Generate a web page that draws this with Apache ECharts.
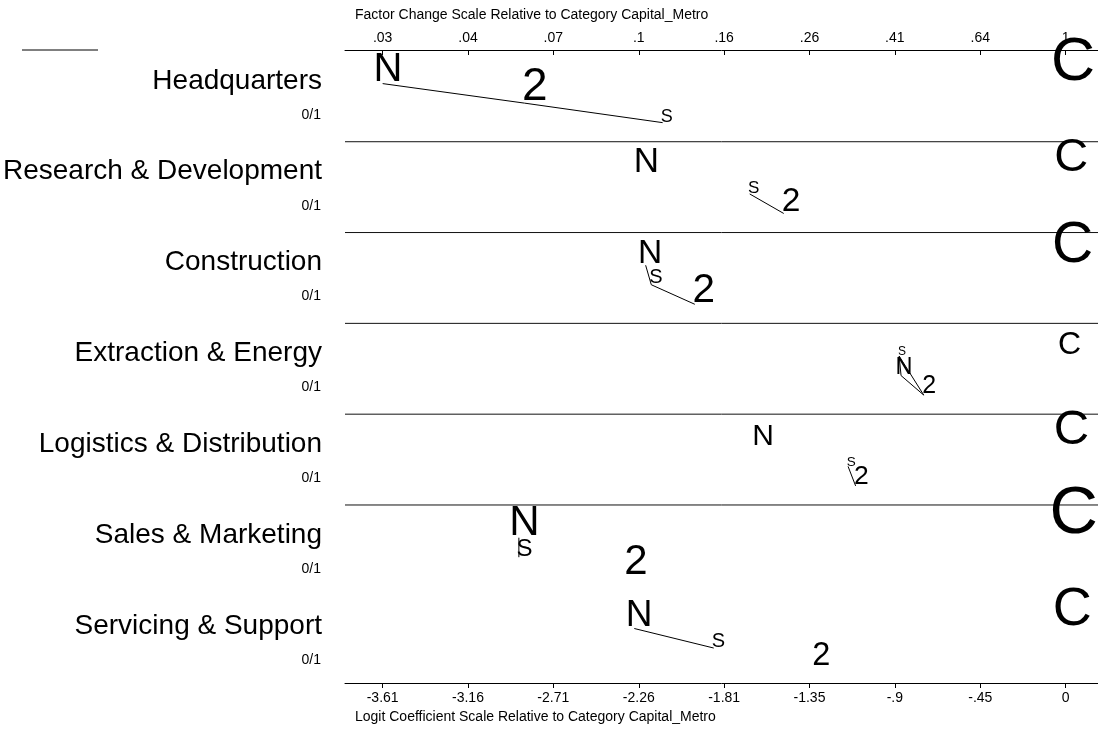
<!DOCTYPE html>
<html>
<head>
<meta charset="utf-8">
<script src="https://cdn.jsdelivr.net/npm/echarts@6/dist/echarts.min.js"></script>
<style>
html, body { margin: 0; background: #fff; }
#main { width: 1098px; height: 738px; }
</style>
</head>
<body>
<div id="main"></div>
<script>
// outcome categories shown as rows
const rows = [
  "Headquarters",
  "Research & Development",
  "Construction",
  "Extraction & Energy",
  "Logistics & Distribution",
  "Sales & Marketing",
  "Servicing & Support"
];
const rowRange = "0/1";

// logit coefficients relative to Capital_Metro (C)
const coefN = [-3.61, -2.24, -2.22, -0.87, -1.62, -2.89, -2.28];
const coef2 = [-2.86, -1.49, -1.96, -0.75, -1.11, -2.32, -1.33];
const coefS = [-2.13, -1.67, -2.19, -0.88, -1.15, -2.89, -1.86];
const coefC = [0, 0, 0, 0, 0, 0, 0];

// letter magnitude (drawn as letter size)
const magN = [0.40, 0.35, 0.335, 0.235, 0.30, 0.42, 0.37];
const mag2 = [0.46, 0.335, 0.405, 0.25, 0.265, 0.42, 0.325];
const magS = [0.18, 0.17, 0.20, 0.12, 0.135, 0.24, 0.20];
const magC = [0.61, 0.47, 0.57, 0.32, 0.49, 0.67, 0.54];

// vertical stacking level of each letter within its row
const levN = [1, 1, 1, 2, 1, 1, 1];
const lev2 = [2, 3, 3, 3, 3, 3, 3];
const levS = [3, 2, 2, 1, 2, 2, 2];
const levC = [1, 1, 1, 1, 1, 1, 1];

// pairs joined by a line (not significantly different)
const links = [
  [["N", "2"], ["2", "S"]],
  [["S", "2"]],
  [["N", "S"], ["S", "2"]],
  [["S", "N"], ["S", "2"], ["N", "2"]],
  [["S", "2"]],
  [["N", "S"]],
  [["N", "S"]]
];

// axis ticks
const tickValues = [-3.61, -3.159, -2.708, -2.256, -1.805, -1.354, -0.903, -0.451, 0];
const logitLabels = ["-3.61", "-3.16", "-2.71", "-2.26", "-1.81", "-1.35", "-.9", "-.45", "0"];
const factorLabels = [".03", ".04", ".07", ".1", ".16", ".26", ".41", ".64", "1"];
const separators = [1, 2, 3, 4, 5];

const FONT = "'Liberation Sans', Arial, Helvetica, sans-serif";
const X_MIN = -3.809, X_MAX = 0.171;
const LEVEL_OFF = { 1: 0.36, 2: 0.575, 3: 0.79 };
const SIZE = 100;
const SHIFT = { N: 0.13, "2": 0.22, S: 0.23, C: 0.12 };

const coef = { N: coefN, "2": coef2, S: coefS, C: coefC };
const mag = { N: magN, "2": mag2, S: magS, C: magC };
const lev = { N: levN, "2": lev2, S: levS, C: levC };

const letterData = [], letterMeta = [];
rows.forEach((_, r) => {
  ["N", "2", "S", "C"].forEach(k => {
    letterData.push([coef[k][r], r + LEVEL_OFF[lev[k][r]]]);
    letterMeta.push({ letter: k, size: mag[k][r] * SIZE });
  });
});

const linkData = [];
links.forEach((pairs, r) => {
  pairs.forEach(([a, b]) => {
    linkData.push([coef[a][r], r + LEVEL_OFF[lev[a][r]], coef[b][r], r + LEVEL_OFF[lev[b][r]]]);
  });
});

function tickLabel(list) {
  return v => {
    const i = tickValues.findIndex(t => Math.abs(t - v) < 1e-6);
    return i < 0 ? "" : list[i];
  };
}

const chart = echarts.init(document.getElementById("main"));

const option = {
  backgroundColor: "#fff",
  animation: false,
  grid: { left: 345, right: 0, top: 50, bottom: 55 },
  xAxis: [
    {
      type: "value", position: "bottom", min: X_MIN, max: X_MAX,
      axisLine: { show: true, onZero: false, lineStyle: { color: "#000", width: 1 } },
      axisTick: { show: true, customValues: tickValues, length: 5, lineStyle: { color: "#000" } },
      axisLabel: {
        customValues: tickValues, formatter: tickLabel(logitLabels),
        margin: 8, color: "#000", fontSize: 14, fontFamily: FONT
      },
      splitLine: { show: false }
    },
    {
      type: "value", position: "top", min: X_MIN, max: X_MAX,
      axisLine: { show: true, onZero: false, lineStyle: { color: "#000", width: 1 } },
      axisTick: { show: true, inside: true, customValues: tickValues, length: 5, lineStyle: { color: "#000" } },
      axisLabel: {
        customValues: tickValues, formatter: tickLabel(factorLabels),
        margin: 5, color: "#000", fontSize: 14, fontFamily: FONT
      },
      splitLine: { show: false }
    }
  ],
  yAxis: { type: "value", min: -0.01, max: 6.96, inverse: true, show: false },
  graphic: [
    {
      type: "text", left: 355, top: 8,
      style: { text: "Factor Change Scale Relative to Category Capital_Metro", fontSize: 14, fontFamily: FONT, fill: "#000" }
    },
    {
      type: "text", left: 355, top: 710,
      style: { text: "Logit Coefficient Scale Relative to Category Capital_Metro", fontSize: 14, fontFamily: FONT, fill: "#000" }
    },
    {
      type: "line", shape: { x1: 22, y1: 50, x2: 98, y2: 50 },
      style: { stroke: "#000", lineWidth: 1 }
    }
  ],
  series: [
    {
      // row separators
      type: "custom",
      data: separators.map(v => [X_MIN, v]),
      renderItem: (params, api) => {
        const p = api.coord([X_MIN, api.value(1)]);
        const cs = params.coordSys;
        return {
          type: "line", silent: true,
          shape: { x1: cs.x, y1: p[1], x2: cs.x + cs.width, y2: p[1] },
          style: { stroke: "#111", lineWidth: 1 }
        };
      }
    },
    {
      // row labels
      type: "custom",
      data: rows.map((_, r) => [X_MIN, r]),
      renderItem: (params, api) => {
        const top = api.coord([X_MIN, api.value(1) + 0.33]);
        const sub = api.coord([X_MIN, api.value(1) + 0.705]);
        return {
          type: "group", silent: true,
          children: [
            {
              type: "text", x: top[0] - 23, y: top[1],
              style: { text: rows[params.dataIndex], fontSize: 28, fontFamily: FONT, fill: "#000", align: "right", verticalAlign: "middle" }
            },
            {
              type: "text", x: sub[0] - 24, y: sub[1],
              style: { text: rowRange, fontSize: 14, fontFamily: FONT, fill: "#000", align: "right", verticalAlign: "middle" }
            }
          ]
        };
      }
    },
    {
      // connecting lines
      type: "custom",
      data: linkData,
      encode: { x: [0, 2], y: [1, 3] },
      renderItem: (params, api) => {
        const a = api.coord([api.value(0), api.value(1)]);
        const b = api.coord([api.value(2), api.value(3)]);
        return {
          type: "line", silent: true,
          shape: { x1: a[0], y1: a[1], x2: b[0], y2: b[1] },
          style: { stroke: "#000", lineWidth: 1 }
        };
      }
    },
    {
      // category letters
      type: "custom",
      data: letterData,
      renderItem: (params, api) => {
        const p = api.coord([api.value(0), api.value(1)]);
        const m = letterMeta[params.dataIndex];
        return {
          type: "text", silent: true,
          x: p[0] + m.size * SHIFT[m.letter],
          y: p[1] - 0.34 * m.size,
          style: {
            text: m.letter, fontSize: m.size, fontFamily: FONT, fill: "#000",
            align: "center", verticalAlign: "middle"
          }
        };
      }
    }
  ]
};

chart.setOption(option);
</script>
</body>
</html>
